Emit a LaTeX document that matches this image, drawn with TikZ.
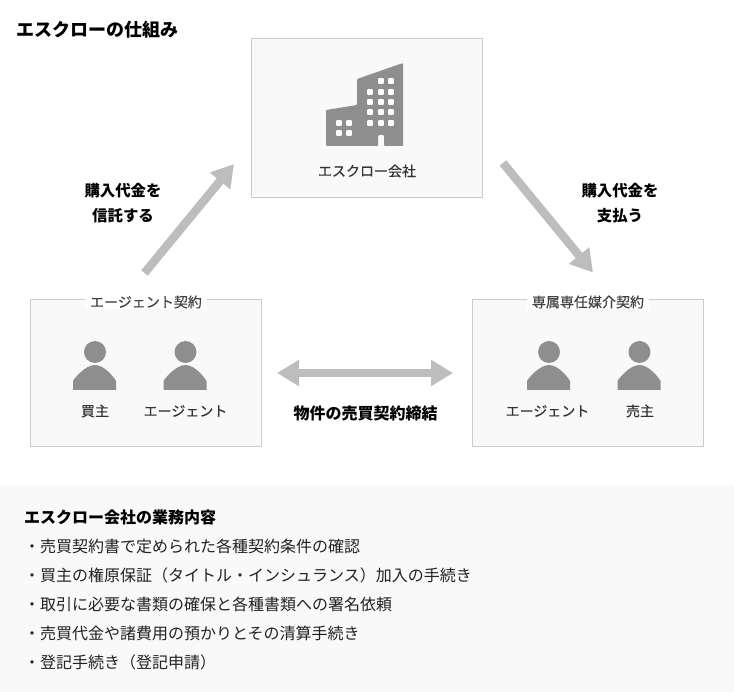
\documentclass[tikz,border=0pt]{standalone}
\usepackage{xcolor}
\usepackage{fontspec}
\setmainfont{Noto Sans CJK JP}
\newfontfamily\namefont[FakeBold=0.25]{Noto Sans CJK JP}
\usetikzlibrary{arrows.meta}

\definecolor{inkdark}{HTML}{222222}
\definecolor{boxfill}{HTML}{F9F9F9}
\definecolor{boxline}{HTML}{CCCCCC}
\definecolor{icongray}{HTML}{8E8E8E}
\definecolor{arrowgray}{HTML}{BDBDBD}

\tikzset{
    partybox/.style = {draw=boxline, fill=boxfill, line width=1pt, minimum width=231pt, minimum height=147pt, inner sep=0pt},
    boxtitle/.style = {fill=white, inner xsep=5pt, inner ysep=1pt, text=black!75, font=\fontsize{14}{16}\namefont},
    namelabel/.style = {text=black!80, font=\fontsize{14}{16}\namefont},
    steplabel/.style = {align=center, text=black, font=\fontsize{15.4}{25}\selectfont\bfseries},
    listline/.style = {anchor=west, inner sep=0pt, text=inkdark, font=\fontsize{16}{18}\selectfont},
    bigarrow/.style = {draw=arrowgray, line width=8.5pt, -{Triangle[length=22pt, width=25pt]}},
    twoarrow/.style = {draw=arrowgray, line width=8.5pt, {Triangle[length=22pt, width=25pt]}-{Triangle[length=22pt, width=25pt]}},
    person/.pic = {
        \fill [icongray] (0,0) circle (11);
        \fill [icongray] (-22,38) -- (-22,29) .. controls (-21,27) and (-10,13) .. (0,13)
            .. controls (10,13) and (20,27) .. (21,29) -- (21,38) -- cycle;
    }
}

\begin{document}
\begin{tikzpicture}[x=1pt, y=-1pt]
    \useasboundingbox (0,0) rectangle (734,692);

    \node (heading) [anchor=west, inner sep=0pt, text=black, font=\fontsize{18}{20}\selectfont\bfseries] at (16,30) {エスクローの仕組み};

    % escrow company
    \node (escrow) [partybox, minimum height=159pt] at (367,118) {};
    \node (escrowname) [namelabel] at (367,171) {エスクロー会社};
    \fill [icongray, rounded corners=1pt, even odd rule] (326,146) -- (326,110) -- (357,105) -- (357,79) -- (403,63)
        -- (403,146) -- (384,146) -- (384,135) -- (378,135) -- (378,146) -- cycle;
    \foreach \x/\y in {381/81, 391/81,
                       370/92, 381/92, 391/92,
                       370/102, 381/102, 391/102,
                       370/112, 381/112, 391/112,
                       370/123, 381/123, 391/123,
                       339/123, 349/123, 339/133, 349/133}
        \fill [white, rounded corners=1pt] (\x-2.9,\y-2.9) rectangle (\x+2.9,\y+2.9);

    % contract boxes
    \node (agentbox) [partybox] at (146,373) {};
    \node (agenttitle) [boxtitle] at (146,302) {エージェント契約};
    \pic at (95,352) {person};
    \pic at (185.5,352) {person};
    \node (buyer) [namelabel] at (95,411) {買主};
    \node (buyeragent) [namelabel] at (185.5,411) {エージェント};

    \node (mediabox) [partybox] at (588,373) {};
    \node (mediatitle) [boxtitle] at (588,302) {専属専任媒介契約};
    \pic at (549,352) {person};
    \pic at (639.5,352) {person};
    \node (selleragent) [namelabel] at (547.5,411) {エージェント};
    \node (seller) [namelabel] at (640,411) {売主};

    % arrows
    \coordinate (paystart) at (144.5,273);
    \coordinate (payend) at (234,164);
    \coordinate (outstart) at (503,163);
    \coordinate (outend) at (593,272.5);
    \draw [bigarrow] (paystart) -- (payend);
    \draw [bigarrow] (outstart) -- (outend);
    \draw [twoarrow, shorten <=15pt, shorten >=19pt] (agentbox) -- (mediabox);

    \node (paylabel) [steplabel] at (123,203) {購入代金を\\信託する};
    \node (outlabel) [steplabel] at (620,203) {購入代金を\\支払う};
    \node (dealabel) [steplabel, font=\fontsize{16}{18}\selectfont\bfseries] at (365.5,413.5) {物件の売買契約締結};

    % duties panel
    \fill [boxfill] (0,486) rectangle (734,692);
    \node (dutyhead) [listline, text=black, font=\fontsize{16}{18}\selectfont\bfseries] at (24,517) {エスクロー会社の業務内容};
    \node (dutya) [listline] at (24,546) {・売買契約書で定められた各種契約条件の確認};
    \node (dutyb) [listline] at (24,575) {・買主の権原保証（タイトル・インシュランス）加入の手続き};
    \node (dutyc) [listline] at (24,604) {・取引に必要な書類の確保と各種書類への署名依頼};
    \node (dutyd) [listline] at (24,633) {・売買代金や諸費用の預かりとその清算手続き};
    \node (dutye) [listline] at (24,662) {・登記手続き（登記申請）};
\end{tikzpicture}
\end{document}
